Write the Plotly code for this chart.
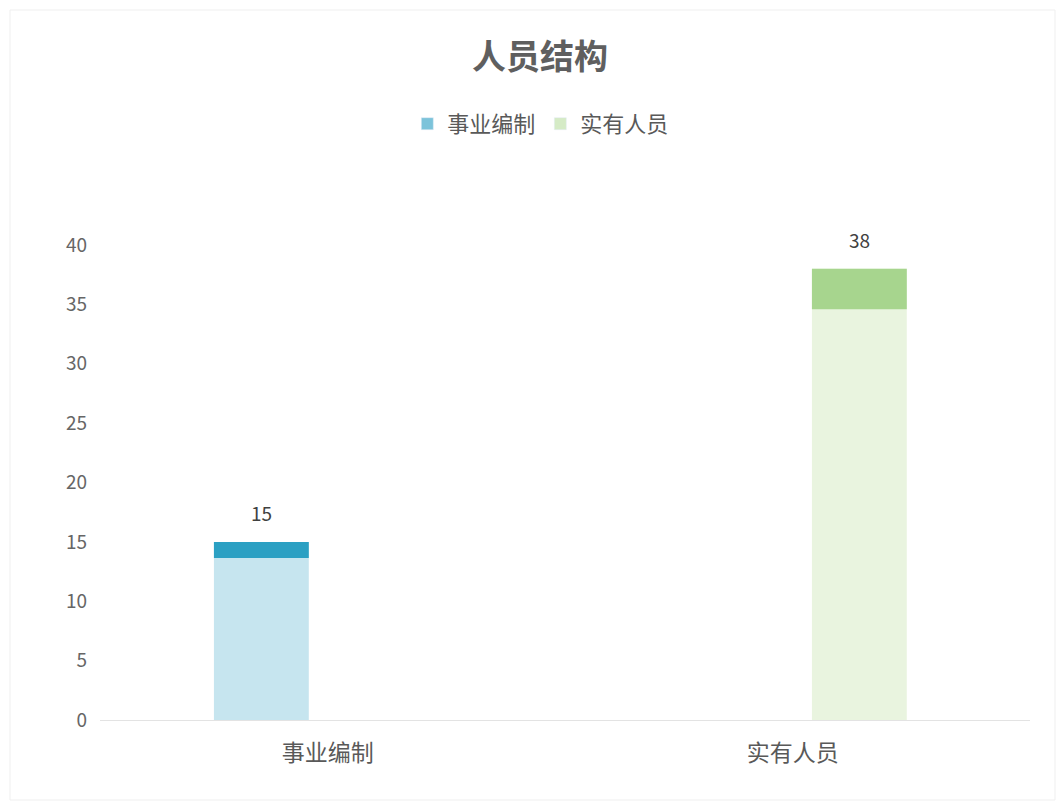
import plotly.graph_objects as go

categories = ["事业编制", "实有人员"]
series_names = ["事业编制", "实有人员"]
# each series only has a value in its own category (clustered layout)
series_values = [[15, None], [None, 38]]
body_colors = ["#c6e5ef", "#e9f4df"]
cap_colors = ["#2ba0c3", "#a7d58e"]
legend_colors = ["#7cc3da", "#d5ebc6"]
tick_vals = [0, 5, 10, 15, 20, 25, 30, 35, 40]
cap_fraction = 0.09

FONT = "Noto Sans CJK SC"
GRAY = "#595959"

slot = 0.286        # width of one series slot within a category
bar_w = 0.204       # visible bar width
n_series = len(series_names)

fig = go.Figure()

for s, (name, vals) in enumerate(zip(series_names, series_values)):
    center = (s - (n_series - 1) / 2) * slot
    off = center - bar_w / 2
    fig.add_trace(go.Bar(
        x=categories, y=vals, name=name, width=bar_w, offset=off,
        marker=dict(color=body_colors[s], line=dict(width=0)),
        showlegend=False,
    ))
    caps = [v * cap_fraction if v is not None else None for v in vals]
    bases = [v * (1 - cap_fraction) if v is not None else None for v in vals]
    fig.add_trace(go.Bar(
        x=categories, y=caps, base=bases, width=bar_w, offset=off,
        marker=dict(color=cap_colors[s], line=dict(width=0)),
        showlegend=False, hoverinfo="skip",
    ))
    fig.add_trace(go.Bar(
        x=[categories[0]], y=[None], name=name,
        marker=dict(color=legend_colors[s]), showlegend=True,
    ))
    for ci, v in enumerate(vals):
        if v is None:
            continue
        fig.add_annotation(x=ci + center, y=v, text=str(v), showarrow=False,
                           yanchor="middle", yshift=29,
                           font=dict(family=FONT, size=19, color="#404040"))

fig.update_layout(
    width=1062, height=805,
    margin=dict(l=100, r=32, t=245, b=85),
    paper_bgcolor="white", plot_bgcolor="white",
    barmode="overlay",
    title=dict(text="<b>人员结构</b>", x=540 / 1062, xanchor="center",
               y=1 - 57 / 805, yanchor="middle",
               font=dict(family=FONT, size=34, color="#5f5f5f")),
    legend=dict(orientation="h", x=0.474, xanchor="center", y=1.255, yanchor="middle",
                font=dict(family=FONT, size=22, color=GRAY),
                itemwidth=30, tracegroupgap=0, bgcolor="rgba(0,0,0,0)"),
    xaxis=dict(range=[-0.49, 1.51], showgrid=False, zeroline=False,
               showline=True, linecolor="#e3e3e3", linewidth=1,
               ticks="", ticklabelstandoff=12,
               tickfont=dict(family=FONT, size=23, color=GRAY)),
    yaxis=dict(range=[0, 40], tickvals=tick_vals, showgrid=False, zeroline=False,
               showline=False, ticks="", ticklabelstandoff=12,
               tickfont=dict(family=FONT, size=19, color="#666666")),
    shapes=[dict(type="rect", xref="paper", yref="paper",
                 x0=-90 / 930, x1=1 + 25 / 930, y0=-80 / 475, y1=1 + 235 / 475,
                 line=dict(color="#efefef", width=1), layer="below")],
)

fig.write_html("out.html")
